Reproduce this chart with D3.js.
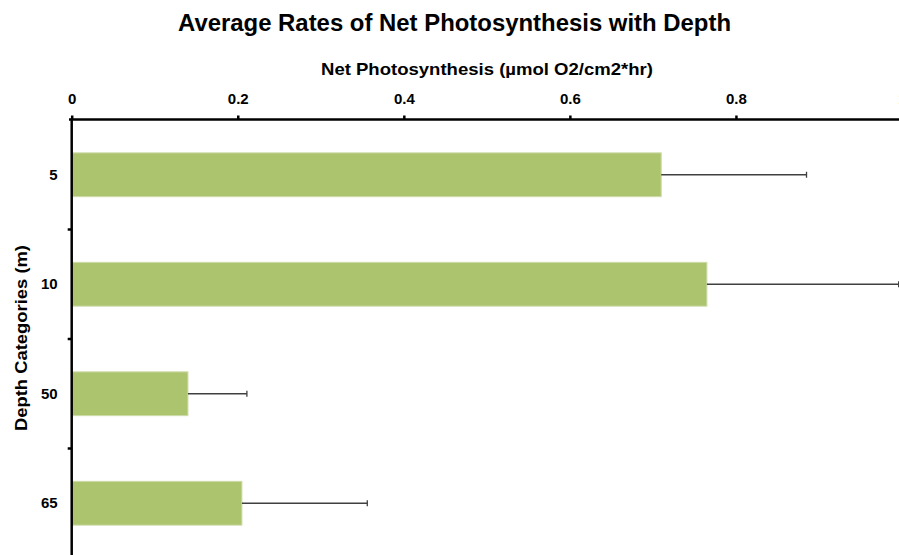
<!DOCTYPE html>
<html>
<head>
<meta charset="utf-8">
<script src="https://cdn.jsdelivr.net/npm/d3@7"></script>
<style>
  html, body { margin: 0; padding: 0; background: #fff; }
  svg { display: block; font-family: "Liberation Sans", Arial, sans-serif; }
</style>
</head>
<body>
<svg id="chart" width="899" height="555"></svg>
<script>
// Depth categories (m) and mean net photosynthesis (µmol O2/cm2*hr)
const depths = ["5", "10", "50", "65"];
const rates = [0.710, 0.765, 0.140, 0.205];
// Upper error-bar extent (standard error) for each depth
const errors = [0.175, 0.231, 0.071, 0.151];
const xTicks = [0, 0.2, 0.4, 0.6, 0.8, 1.0];

const svg = d3.select("#chart");

const x = d3.scaleLinear().domain([0, 1]).range([71.7, 902]);
const y = d3.scaleBand().domain(depths).range([120, 558])
  .paddingInner(0.6).paddingOuter(0.3);

// Title
svg.append("text")
  .attr("x", 454.5).attr("y", 31)
  .attr("text-anchor", "middle")
  .attr("font-size", 23).attr("font-weight", "bold")
  .attr("textLength", 553).attr("lengthAdjust", "spacingAndGlyphs")
  .attr("fill", "#000")
  .text("Average Rates of Net Photosynthesis with Depth");

// X axis title
svg.append("text")
  .attr("x", 487).attr("y", 75)
  .attr("text-anchor", "middle")
  .attr("font-size", 17).attr("font-weight", "bold")
  .attr("textLength", 332).attr("lengthAdjust", "spacingAndGlyphs")
  .text("Net Photosynthesis (µmol O2/cm2*hr)");

// Y axis title
svg.append("text")
  .attr("transform", "translate(27,338) rotate(-90)")
  .attr("text-anchor", "middle")
  .attr("font-size", 17).attr("font-weight", "bold")
  .attr("textLength", 186).attr("lengthAdjust", "spacingAndGlyphs")
  .text("Depth Categories (m)");

// Bars
svg.append("g").selectAll("rect")
  .data(depths)
  .join("rect")
  .attr("x", x(0))
  .attr("y", d => y(d))
  .attr("width", (d, i) => x(rates[i]) - x(0))
  .attr("height", y.bandwidth())
  .attr("fill", "#abc46d")
  .attr("stroke", "#cddba8")
  .attr("stroke-width", 1);

// Error bars (upper side)
const eb = svg.append("g").attr("stroke", "#404040").attr("stroke-width", 1.3);
depths.forEach((d, i) => {
  const cy = y(d) + y.bandwidth() / 2;
  const x1 = x(rates[i]), x2 = x(rates[i] + errors[i]);
  eb.append("line").attr("x1", x1).attr("x2", x2).attr("y1", cy).attr("y2", cy);
  eb.append("line").attr("x1", x2).attr("x2", x2).attr("y1", cy - 3).attr("y2", cy + 3);
});

// X axis on top
const xAxis = svg.append("g")
  .attr("transform", "translate(0,119.5)")
  .call(d3.axisTop(x).tickValues(xTicks).tickFormat(d3.format("~g"))
    .tickSize(4).tickSizeOuter(0).tickPadding(12));
xAxis.select(".domain").attr("stroke", "#000").attr("stroke-width", 2.5)
  .attr("d", "M69,0H905");
xAxis.selectAll(".tick line").attr("stroke", "#000").attr("stroke-width", 2.5);
xAxis.selectAll("text").attr("font-size", 15).attr("font-weight", "bold")
  .attr("font-family", "Liberation Sans, Arial, sans-serif").attr("fill", "#000");

// Y axis: category labels at band centres, ticks at band boundaries
const yAxis = svg.append("g")
  .attr("transform", "translate(71.7,0)")
  .call(d3.axisLeft(y).tickSize(0).tickPadding(14));
yAxis.select(".domain").attr("stroke", "#000").attr("stroke-width", 2.5)
  .attr("d", "M0,118.5V560");
yAxis.selectAll("text").attr("font-size", 15).attr("font-weight", "bold")
  .attr("font-family", "Liberation Sans, Arial, sans-serif").attr("fill", "#000");

const step = y.step();
const bounds = depths.slice(1).map(d => y(d) - (step - y.bandwidth()) / 2);
yAxis.selectAll("line.sep")
  .data(bounds)
  .join("line")
  .attr("class", "sep")
  .attr("x1", -4).attr("x2", 0)
  .attr("y1", d => d).attr("y2", d => d)
  .attr("stroke", "#000").attr("stroke-width", 2.5);
</script>
</body>
</html>
